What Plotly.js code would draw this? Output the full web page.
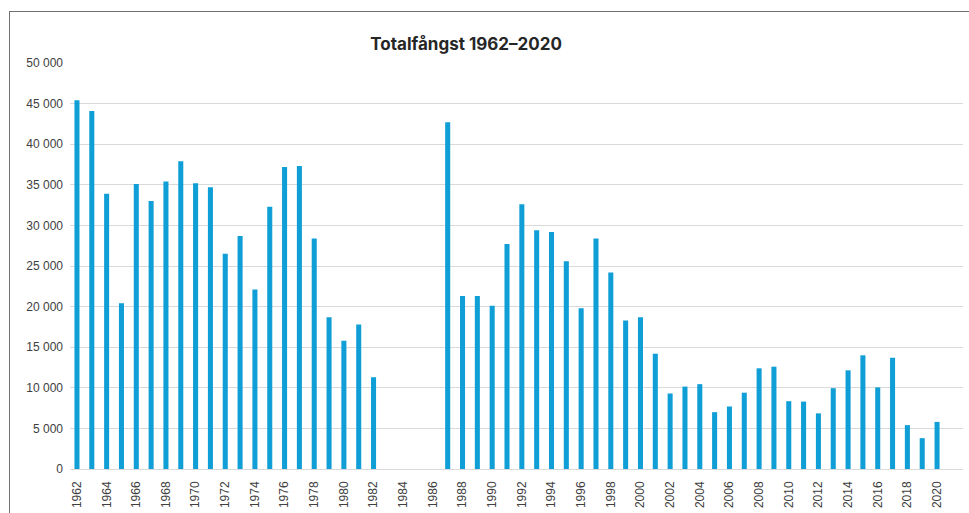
<!DOCTYPE html>
<html>
<head>
<meta charset="utf-8">
<script src="https://cdn.plot.ly/plotly-3.0.1.min.js"></script>
<style>
  html, body { margin: 0; padding: 0; overflow: hidden; background: #fff; }
  #chart { width: 969px; height: 513px; }
  #frame { position: absolute; left: 9px; top: 11px; width: 1100px; height: 700px;
           border: 1px solid #707070; pointer-events: none; }
</style>
</head>
<body>
<div id="chart"></div>
<div id="frame"></div>
<script>
const years = [1962,1963,1964,1965,1966,1967,1968,1969,1970,1971,1972,1973,1974,1975,1976,1977,1978,1979,1980,1981,1982,1983,1984,1985,1986,1987,1988,1989,1990,1991,1992,1993,1994,1995,1996,1997,1998,1999,2000,2001,2002,2003,2004,2005,2006,2007,2008,2009,2010,2011,2012,2013,2014,2015,2016,2017,2018,2019,2020];
const catch_total = [45400,44100,33900,20400,35100,33000,35400,37900,35200,34700,26500,28700,22100,32300,37200,37300,28400,18700,15800,17800,11300,null,null,null,null,42700,21300,21300,20100,27700,32600,29400,29200,25600,19800,28400,24200,18300,18700,14200,9300,10150,10450,7000,7700,9400,12400,12600,8350,8300,6850,9950,12150,14000,10050,13700,5400,3800,5800];
const tickYears = [1962,1964,1966,1968,1970,1972,1974,1976,1978,1980,1982,1984,1986,1988,1990,1992,1994,1996,1998,2000,2002,2004,2006,2008,2010,2012,2014,2016,2018,2020];
const yTicks = [0,5000,10000,15000,20000,25000,30000,35000,40000,45000,50000];
const titleText = 'Totalfångst 1962–2020';

const trace = {
  type: 'bar',
  x: years,
  y: catch_total,
  width: 0.34,
  marker: { color: '#0F9ED5', line: { width: 0 } },
  hoverinfo: 'x+y'
};

const layout = {
  width: 969,
  height: 513,
  margin: { l: 70, r: 6, t: 63, b: 44 },
  paper_bgcolor: '#ffffff',
  plot_bgcolor: '#ffffff',
  showlegend: false,
  font: { family: 'Liberation Sans, Arial, sans-serif', size: 12, color: '#404040' },
  title: {
    text: titleText,
    font: { family: 'Inter, Liberation Sans, sans-serif', size: 17, color: '#262626', weight: 'bold' },
    x: 0.481, xanchor: 'center', xref: 'container',
    y: 0.915, yanchor: 'middle', yref: 'container'
  },
  xaxis: {
    type: 'linear',
    range: [1961.53, 2021.75],
    tickmode: 'array',
    tickvals: tickYears,
    ticktext: tickYears.map(String),
    tickangle: -90,
    showgrid: false,
    zeroline: false,
    showline: false,
    ticks: '',
    ticklen: 0,
    ticklabelstandoff: 9,
    tickfont: { size: 12, color: '#404040' },
    fixedrange: true
  },
  yaxis: {
    range: [0, 50000],
    tickmode: 'array',
    tickvals: yTicks,
    ticktext: yTicks.map(v => v === 0 ? '0' : (Math.floor(v/1000) + ' ' + String(v%1000).padStart(3,'0'))),
    showgrid: true,
    gridcolor: '#d9d9d9',
    gridwidth: 1,
    zeroline: true,
    zerolinecolor: '#d9d9d9',
    zerolinewidth: 1,
    showline: false,
    ticks: '',
    ticklabelstandoff: 6,
    tickfont: { size: 12, color: '#404040' },
    fixedrange: true
  }
};

Plotly.newPlot('chart', [trace], layout, { displayModeBar: false, staticPlot: true });
</script>
</body>
</html>
